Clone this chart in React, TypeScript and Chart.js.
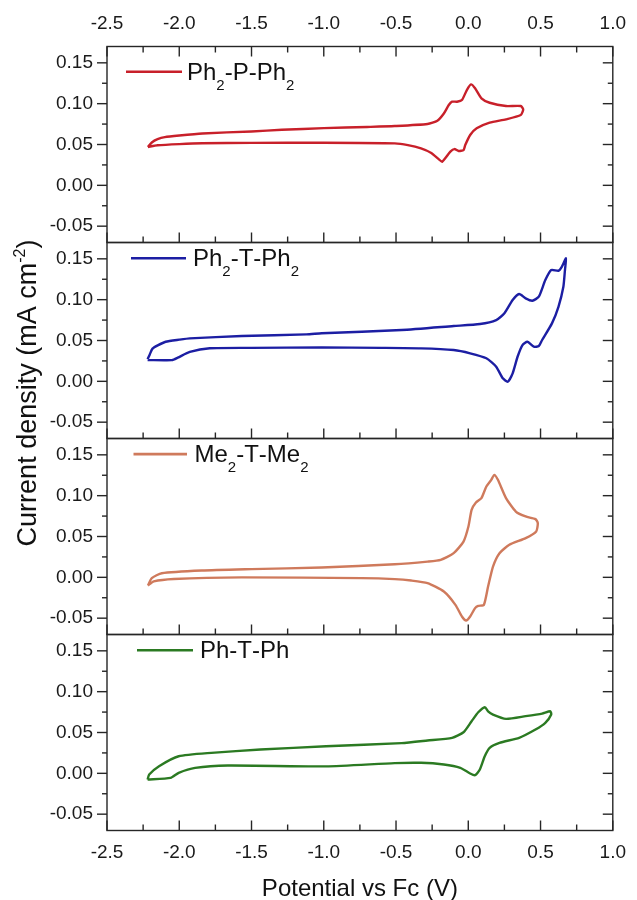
import React, { useEffect, useRef } from 'react';
import { Chart, registerables } from 'chart.js';

Chart.register(...registerables);

const FONT = '"Liberation Sans", Arial, Helvetica, sans-serif';

// ---- axis ticks ----
const xTickValues = [-2.5, -2.0, -1.5, -1.0, -0.5, 0.0, 0.5, 1.0];
const xMinorValues = [-2.25, -1.75, -1.25, -0.75, -0.25, 0.25, 0.75];
const yTickValues = [-0.05, 0.0, 0.05, 0.1, 0.15];
const yMinorValues = [-0.025, 0.025, 0.075, 0.125];

const xTitle = 'Potential vs Fc (V)';
const yTitle = 'Current density (mA cm⁻²)';

// ---- series names ----
const seriesNames = ['Ph₂-P-Ph₂', 'Ph₂-T-Ph₂', 'Me₂-T-Me₂', 'Ph-T-Ph'];

// ---- Ph2-P-Ph2 (potential V, current density mA cm-2) ----
const phPPhPotential = [
  -2.217, -2.19, -2.15, -2.1, -2.0, -1.84, -1.5, -1.29, -1.0, -0.7, -0.509, -0.282, -0.214, -0.169,
  -0.135, -0.112, -0.078, -0.044, -0.01, 0.019, 0.047, 0.091, 0.148, 0.261, 0.363, 0.38, 0.363,
  0.261, 0.148, 0.058, 0.013, -0.021, -0.033, -0.067, -0.096, -0.124, -0.181, -0.203, -0.259,
  -0.327, -0.418, -0.509, -1.0, -1.5, -1.84, -2.0, -2.15, -2.217,
];
const phPPhCurrent = [
  0.047, 0.0525, 0.0565, 0.059, 0.061, 0.0635, 0.066, 0.068, 0.07, 0.0715, 0.0726, 0.0751, 0.0791, 0.088,
  0.0983, 0.1024, 0.1024, 0.1044, 0.1167, 0.1236, 0.1188, 0.1065, 0.1011, 0.0971, 0.0971, 0.093, 0.0861,
  0.0808, 0.0767, 0.0698, 0.0616, 0.0493, 0.0432, 0.042, 0.0444, 0.0412, 0.0289, 0.0318, 0.0399,
  0.0453, 0.0493, 0.0514, 0.0522, 0.052, 0.0515, 0.0505, 0.049, 0.047,
];

// ---- Ph2-T-Ph2 ----
const phTPh2Potential = [
  -2.219, -2.204, -2.185, -2.149, -2.094, -2.0, -1.927, -1.567, -1.12, -1.014, -0.461, -0.101, 0.081,
  0.193, 0.25, 0.307, 0.352, 0.397, 0.443, 0.488, 0.533, 0.574, 0.624, 0.647, 0.676,
  0.669, 0.658, 0.624, 0.579, 0.511, 0.488, 0.454, 0.409, 0.375, 0.341, 0.307, 0.273, 0.239, 0.193,
  0.125, 0.013, -0.101, -0.327, -0.6, -1.014, -1.5, -1.789, -1.927, -2.01, -2.051, -2.219,
];
const phTPh2Current = [
  0.027, 0.033, 0.04, 0.044, 0.0485, 0.051, 0.0526, 0.0555, 0.0575, 0.0588, 0.0628, 0.0677, 0.0702,
  0.075, 0.0833, 0.0995, 0.1069, 0.1016, 0.0987, 0.1036, 0.124, 0.1363, 0.1354, 0.1403, 0.1506,
  0.1363, 0.1158, 0.0913, 0.071, 0.0506, 0.0432, 0.0424, 0.0485, 0.0444, 0.0301, 0.0098, -0.0005, 0.0037, 0.0179,
  0.0282, 0.0343, 0.0383, 0.0404, 0.041, 0.0415, 0.041, 0.0405, 0.036, 0.029, 0.026, 0.026,
];

// ---- Me2-T-Me2 ----
const meTMePotential = [
  -2.217, -2.19, -2.121, -1.844, -1.5, -1.014, -0.509, -0.282, -0.191, -0.101, -0.033, 0.001, 0.023,
  0.053, 0.091, 0.125, 0.159, 0.18, 0.205, 0.261, 0.329, 0.397, 0.465, 0.481, 0.47,
  0.397, 0.284, 0.216, 0.171, 0.137, 0.108, 0.069, 0.047, 0.013, -0.015, -0.044, -0.089, -0.169,
  -0.282, -0.395, -0.509, -0.738, -1.567, -2.038, -2.176, -2.217,
];
const meTMeCurrent = [
  -0.01, -0.001, 0.005, 0.0083, 0.01, 0.012, 0.016, 0.0193, 0.0214, 0.0296, 0.0438, 0.0622, 0.0826,
  0.0916, 0.097, 0.1112, 0.1194, 0.1255, 0.1194, 0.097, 0.0806, 0.0745, 0.0713, 0.0664, 0.0562,
  0.048, 0.0398, 0.0296, 0.0132, -0.0113, -0.0337, -0.0349, -0.0377, -0.048, -0.0529, -0.048, -0.0337, -0.0174,
  -0.0071, -0.0039, -0.0022, -0.001, 0.0, -0.002, -0.005, -0.01,
];

// ---- Ph-T-Ph ----
const phTPhPotential = [
  -2.219, -2.208, -2.14, -2.004, -1.778, -1.438, -0.984, -0.461, -0.282, -0.112, -0.033, 0.023, 0.069,
  0.115, 0.137, 0.171, 0.261, 0.397, 0.511, 0.567, 0.574,
  0.533, 0.465, 0.352, 0.216, 0.148, 0.114, 0.08, 0.047, 0.013, -0.055, -0.169, -0.327, -0.509,
  -0.984, -1.664, -1.89, -2.004, -2.06, -2.219,
];
const phTPhCurrent = [
  -0.0076, -0.0015, 0.0087, 0.0209, 0.0251, 0.0291, 0.0332, 0.037, 0.0402, 0.0435, 0.0503, 0.0638, 0.0748,
  0.081, 0.076, 0.072, 0.0667, 0.07, 0.0732, 0.076, 0.072,
  0.0618, 0.0536, 0.0435, 0.0373, 0.0312, 0.0209, 0.0047, -0.0023, -0.0002, 0.0067, 0.0108, 0.0129, 0.0125,
  0.0085, 0.0096, 0.0067, 0.0006, -0.0055, -0.0076,
];

// ---- panel layout / style (top to bottom) ----
const panels = [
  { axis: 'yA', name: seriesNames[0], E: phPPhPotential, J: phPPhCurrent, color: '#c8202a', lg: { x1: 126, x2: 182, dy: 25.2, tx: 187 } },
  { axis: 'yB', name: seriesNames[1], E: phTPh2Potential, J: phTPh2Current, color: '#1c1ea3', lg: { x1: 131, x2: 186, dy: 15.8, tx: 193 } },
  { axis: 'yC', name: seriesNames[2], E: meTMePotential, J: meTMeCurrent, color: '#cf7a5c', lg: { x1: 133.5, x2: 187, dy: 15.6, tx: 194.5 } },
  { axis: 'yD', name: seriesNames[3], E: phTPhPotential, J: phTPhCurrent, color: '#2b7a22', lg: { x1: 137, x2: 193, dy: 15.7, tx: 200 } },
];

const SUB = '₀₁₂₃₄₅₆₇₈₉';
const SUP = '⁰¹²³⁴⁵⁶⁷⁸⁹';

function drawRich(ctx: CanvasRenderingContext2D, text: string, x: number, baseline: number, size: number, smallSize: number, subShift: number, supShift: number) {
  let cx = x;
  for (const ch of text) {
    const si = SUB.indexOf(ch);
    const pi = SUP.indexOf(ch);
    if (si >= 0 || pi >= 0 || ch === '⁻') {
      const t = ch === '⁻' ? '-' : String(si >= 0 ? si : pi);
      ctx.font = `${smallSize}px ${FONT}`;
      ctx.fillText(t, cx, si >= 0 ? baseline + subShift : baseline - supShift);
      cx += ctx.measureText(t).width;
    } else {
      ctx.font = `${size}px ${FONT}`;
      ctx.fillText(ch, cx, baseline);
      cx += ctx.measureText(ch).width;
    }
  }
  return cx - x;
}

function measureRich(ctx: CanvasRenderingContext2D, text: string, size: number, smallSize: number) {
  let w = 0;
  for (const ch of text) {
    const si = SUB.indexOf(ch);
    const pi = SUP.indexOf(ch);
    if (si >= 0 || pi >= 0 || ch === '⁻') {
      const t = ch === '⁻' ? '-' : String(si >= 0 ? si : pi);
      ctx.font = `${smallSize}px ${FONT}`;
      w += ctx.measureText(t).width;
    } else {
      ctx.font = `${size}px ${FONT}`;
      w += ctx.measureText(ch).width;
    }
  }
  return w;
}

const framePlugin = {
  id: 'cvFrames',
  beforeDraw(chart: any) {
    const ctx = chart.ctx;
    ctx.save();
    ctx.fillStyle = '#ffffff';
    ctx.fillRect(0, 0, chart.width, chart.height);
    ctx.restore();
  },
  afterDraw(chart: any) {
    const ctx: CanvasRenderingContext2D = chart.ctx;
    const xs = chart.scales.x;
    const left = chart.chartArea.left;
    const right = chart.chartArea.right;
    const seg = (x1: number, y1: number, x2: number, y2: number) => {
      ctx.beginPath();
      ctx.moveTo(x1, y1);
      ctx.lineTo(x2, y2);
      ctx.stroke();
    };
    ctx.save();
    panels.forEach((p, i) => {
      const ys = chart.scales[p.axis];
      const top = ys.top;
      const bottom = ys.bottom;
      ctx.strokeStyle = '#262626';
      ctx.lineWidth = 1.4;
      ctx.strokeRect(left, top, right - left, bottom - top);
      yTickValues.forEach((v) => {
        const py = ys.getPixelForValue(v);
        seg(left - 10, py, left, py);
        seg(right - 10, py, right, py);
      });
      yMinorValues.forEach((v) => {
        const py = ys.getPixelForValue(v);
        seg(left - 5, py, left, py);
        seg(right - 5, py, right, py);
      });
      xTickValues.forEach((v) => {
        const px = xs.getPixelForValue(v);
        seg(px, bottom, px, bottom - 10);
        if (i === 0) seg(px, top, px, top + 10);
      });
      xMinorValues.forEach((v) => {
        const px = xs.getPixelForValue(v);
        seg(px, bottom, px, bottom - 6);
        if (i === 0) seg(px, top, px, top + 6);
      });
      // legend
      const ly = top + p.lg.dy;
      ctx.strokeStyle = p.color;
      ctx.lineWidth = 2.6;
      seg(p.lg.x1, ly, p.lg.x2, ly);
      ctx.fillStyle = '#111111';
      ctx.textAlign = 'left';
      ctx.textBaseline = 'alphabetic';
      drawRich(ctx, p.name, p.lg.tx, ly + 8, 24, 15, 10, 9);
    });
    // axis titles
    ctx.fillStyle = '#111111';
    ctx.textBaseline = 'alphabetic';
    ctx.textAlign = 'left';
    ctx.font = `24px ${FONT}`;
    const xw = ctx.measureText(xTitle).width;
    const cxTitle = (left + right) / 2;
    ctx.fillText(xTitle, cxTitle - xw / 2, 896);

    ctx.save();
    ctx.translate(35.5, 393);
    ctx.rotate(-Math.PI / 2);
    const yw = measureRich(ctx, yTitle, 27, 16);
    drawRich(ctx, yTitle, -yw / 2, 0, 27, 16, 10, 11);
    ctx.restore();
    ctx.restore();
  },
};

const tickFont = { family: FONT, size: 19 };

function yScale() {
  return {
    type: 'linear',
    axis: 'y',
    position: 'left',
    stack: 'cv',
    stackWeight: 1,
    min: -0.07,
    max: 0.17,
    offset: false,
    grid: { display: false, drawTicks: false, tickLength: 0 },
    border: { display: false },
    afterBuildTicks: (s: any) => {
      s.ticks = yTickValues.map((v) => ({ value: v }));
    },
    afterFit: (s: any) => {
      s.width = 107;
    },
    ticks: {
      font: tickFont,
      color: '#1a1a1a',
      padding: 14,
      callback: (v: any) => Number(v).toFixed(2),
    },
  };
}

function xScale(position: string, height: number, padding: number) {
  return {
    type: 'linear',
    axis: 'x',
    position,
    min: -2.5,
    max: 1.0,
    offset: false,
    grid: { display: false, drawTicks: false, tickLength: 0 },
    border: { display: false },
    afterBuildTicks: (s: any) => {
      s.ticks = xTickValues.map((v) => ({ value: v }));
    },
    afterFit: (s: any) => {
      s.height = height;
    },
    ticks: {
      font: tickFont,
      color: '#1a1a1a',
      padding,
      maxRotation: 0,
      autoSkip: false,
      callback: (v: any) => Number(v).toFixed(1),
    },
  };
}

export default function App() {
  const ref = useRef<HTMLCanvasElement>(null);
  useEffect(() => {
    const canvas = ref.current;
    if (!canvas) return;
    const datasets = panels.map((p) => ({
      label: p.name,
      data: p.E.map((e, i) => ({ x: e, y: p.J[i] })),
      xAxisID: 'x',
      yAxisID: p.axis,
      borderColor: p.color,
      backgroundColor: p.color,
      borderWidth: 2.4,
      pointRadius: 0,
      showLine: true,
      tension: 0.2,
      fill: false,
    }));
    const chart = new Chart(canvas, {
      type: 'scatter',
      data: { datasets } as any,
      options: {
        responsive: false,
        maintainAspectRatio: false,
        animation: false,
        layout: { padding: { left: 0, right: 15, top: 0, bottom: 0 } },
        plugins: { legend: { display: false }, tooltip: { enabled: false } },
        scales: {
          x: xScale('bottom', 69.5, 11),
          x2: xScale('top', 46.5, 11),
          yD: yScale(),
          yC: yScale(),
          yB: yScale(),
          yA: yScale(),
        } as any,
      },
      plugins: [framePlugin as any],
    });
    return () => chart.destroy();
  }, []);
  return (
    <div style={{ position: 'absolute', left: 0, top: 0, width: 637, height: 900, background: '#fff' }}>
      <canvas ref={ref} width={637} height={900} style={{ display: 'block' }} />
    </div>
  );
}
